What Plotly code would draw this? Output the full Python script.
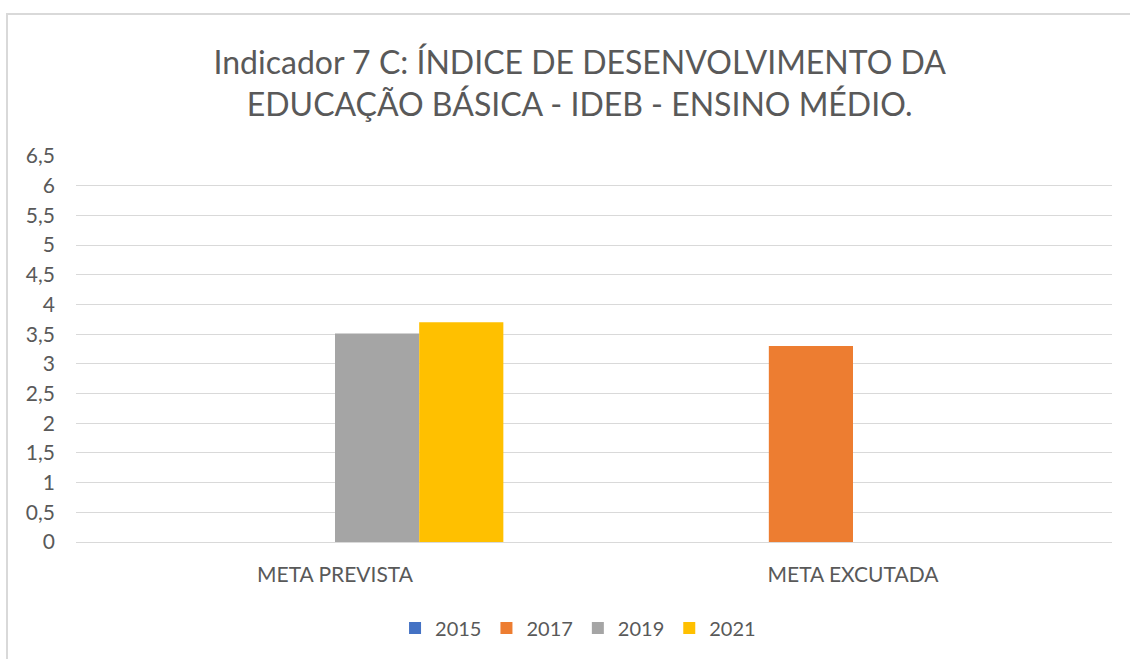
import plotly.graph_objects as go

categories = ["META PREVISTA", "META EXCUTADA"]
series_names = ["2015", "2017", "2019", "2021"]
values_2015 = [None, None]
values_2017 = [None, 3.3]
values_2019 = [3.51, None]
values_2021 = [3.7, None]
colors = ["#4472C4", "#ED7D31", "#A5A5A5", "#FFC000"]
y_ticks = [0, 0.5, 1, 1.5, 2, 2.5, 3, 3.5, 4, 4.5, 5, 5.5, 6, 6.5]
y_tick_labels = [("%g" % v).replace(".", ",") for v in y_ticks]

FONT = "Lato, Calibri, Carlito, sans-serif"

fig = go.Figure()
for name, vals, col in zip(series_names, [values_2015, values_2017, values_2019, values_2021], colors):
    fig.add_trace(go.Bar(name=name, x=categories, y=vals, marker_color=col, marker_line_width=0))

fig.update_layout(
    width=1130, height=659,
    paper_bgcolor="white", plot_bgcolor="white",
    margin=dict(l=76, r=18, t=156, b=114),
    barmode="group", bargap=0.35, bargroupgap=0,
    font=dict(family=FONT, color="#595959"),
    title=dict(
        text="Indicador 7 C: ÍNDICE DE DESENVOLVIMENTO DA<br>EDUCAÇÃO BÁSICA - IDEB - ENSINO MÉDIO.",
        x=0.513, xanchor="center", y=0.887, yanchor="middle",
        font=dict(family=FONT, size=32, color="#595959"),
    ),
    xaxis=dict(
        tickfont=dict(size=21, color="#595959"),
        showline=True, linecolor="#d9d9d9", linewidth=1,
        ticks="", showgrid=False, ticklabelstandoff=14,
    ),
    yaxis=dict(
        range=[0, 6.5], tickvals=y_ticks, ticktext=y_tick_labels,
        tickfont=dict(size=21, color="#595959"),
        showgrid=True, gridcolor="#d9d9d9", gridwidth=1,
        zeroline=False, showline=False, ticks="", ticklabelstandoff=20,
    ),
    legend=dict(
        orientation="h", x=0.4846, xanchor="center", y=-0.223, yanchor="middle",
        font=dict(size=20, color="#595959"),
        itemwidth=30, traceorder="normal",
    ),
    shapes=[dict(type="rect", xref="paper", yref="paper",
                 x0=-0.0666, x1=1.05, y0=-0.5, y1=1.368,
                 line=dict(color="#d9d9d9", width=2))],
)

fig.write_html("out.html", config={"displayModeBar": False},
               post_script="document.body.style.margin='0';")
